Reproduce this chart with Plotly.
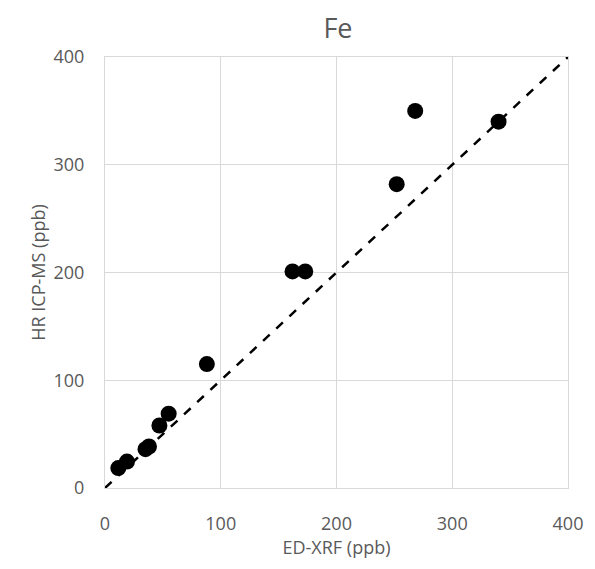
import plotly.graph_objects as go

xrf = [11.5, 19, 35, 38, 47, 55, 88, 162, 173, 252, 268, 340]
icp = [18.5, 24.5, 36, 38.5, 58, 69, 115, 201, 201, 282, 350, 340]
xerr = [1.5, 1.5, 1.5, 1.5, 1.5, 1.5, 2, 2, 2, 3, 5, 6]
yerr = [1, 1, 1, 1, 1, 1, 1.5, 2, 2, 2.5, 3, 3]
line_x = [0, 400]
line_y = [0, 400]

grey = "#595959"
grid = "#d9d9d9"
font = "Open Sans"

fig = go.Figure()
fig.add_trace(go.Scatter(
    x=line_x, y=line_y, mode="lines",
    line=dict(color="black", width=2.5, dash="dash"),
    hoverinfo="skip", showlegend=False))
fig.add_trace(go.Scatter(
    x=xrf, y=icp, mode="markers",
    marker=dict(color="black", size=16),
    error_x=dict(type="data", array=xerr, color="#a6a6a6", thickness=1.2, width=3),
    error_y=dict(type="data", array=yerr, color="#a6a6a6", thickness=1.2, width=3),
    showlegend=False))

axis_common = dict(
    range=[0, 400], dtick=100, showgrid=True, gridcolor=grid, gridwidth=1,
    zeroline=False, showline=True, linecolor=grid, linewidth=1, mirror=True,
    tickfont=dict(family=font, size=18, color=grey), ticks="", fixedrange=True)

fig.update_layout(
    width=595, height=569,
    margin=dict(l=105, r=25, t=57, b=81),
    paper_bgcolor="white", plot_bgcolor="white",
    title=dict(text="Fe", x=0.568, xanchor="center", y=0.95, yanchor="middle",
               font=dict(family=font, size=27, color=grey)),
    xaxis=dict(axis_common, ticklabelstandoff=19,
               title=dict(text="ED-XRF (ppb)", font=dict(family=font, size=18, color=grey), standoff=0)),
    yaxis=dict(axis_common, ticklabelstandoff=16,
               title=dict(text="HR ICP-MS (ppb)", font=dict(family=font, size=18, color=grey), standoff=3)),
)
fig.write_html("out.html")
